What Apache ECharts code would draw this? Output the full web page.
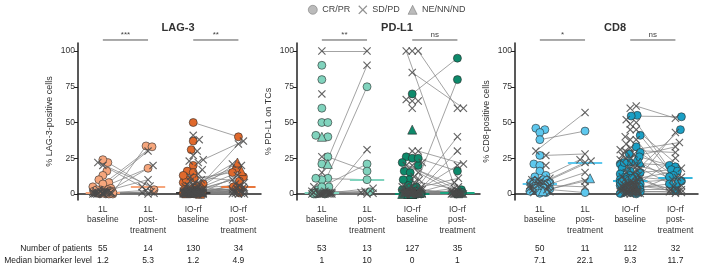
<!DOCTYPE html>
<html>
<head>
<meta charset="utf-8">
<script src="https://cdn.jsdelivr.net/npm/echarts@6/dist/echarts.min.js"></script>
<style>
html, body { margin: 0; padding: 0; background: #fff; }
#chart { width: 701px; height: 265px; }
</style>
</head>
<body>
<div id="chart"></div>
<script>
// labels and table
var columns = ['1L\nbaseline', '1L\npost-\ntreatment', 'IO-rf\nbaseline', 'IO-rf\npost-\ntreatment'];
var panelNames = ['LAG-3', 'PD-L1', 'CD8'];
var yNames = ['% LAG-3-positive cells', '% PD-L1 on TCs', '% CD8-positive cells'];
var yTicks = [0, 25, 50, 75, 100];
var patientCounts = [[55, 14, 130, 34], [53, 13, 127, 35], [50, 11, 112, 32]];
var medianLevels = [[1.2, 5.3, 1.2, 4.9], [1, 10, 0, 1], [7.1, 22.1, 9.3, 11.7]];
var sigLabels = [['***', '**'], ['**', 'ns'], ['*', 'ns']];
var legendNames = ['CR/PR', 'SD/PD', 'NE/NN/ND'];

// response codes: c = CR/PR, x = SD/PD, t = NE/NN/ND
// "Only" = baseline only, "Pairs" = [baseline, post-treatment]

// LAG-3, 1L
var lag1Only = [22, 16, 13, 10, 8, 7, 5, 4, 3, 3, 2.8, 2.5, 2.2, 2, 2, 1.8, 1.6, 1.5, 1.5, 1.4, 1.3,
  1.2, 1.1, 1, 1, 0.9, 0.8, 0.7, 0.6, 0.5, 0.5, 0.4, 0.3, 0.2, 0.2, 0.1, 0.1, 0, 0, 0, 0];
var lag1OnlyResp = 'cccccccccxcxccxccxccx' + 'cxccxccxcxcxcxccxcxc';
var lag1Pairs = [[1, 33.6], [2, 33], [0.5, 30], [1.5, 20], [3, 18], [0.8, 10], [22, 5.6], [20, 5],
  [24, 3], [0.4, 2.5], [0.2, 1.5], [1.2, 1], [0.6, 0.5], [0, 0]];
var lag1PairResp = 'ccxxcxxxcxxxxx';

// LAG-3, IO-rf
var lagIoOnly = [41, 38, 37, 31, 30, 27, 23, 22, 20, 17, 16, 15, 14, 12, 11, 10, 9, 8, 7, 7, 6, 5.5, 5, 4.5,
  4, 4, 3.8, 3.5, 3.2, 3, 3, 2.8, 2.6, 2.5, 2.4, 2.2, 2, 2, 1.9, 1.8, 1.7, 1.6, 1.5, 1.5, 1.4, 1.4, 1.3, 1.3, 1.3,
  1.2, 1.1, 1.1, 1, 1, 1, 0.9, 0.9, 0.9, 0.8, 0.8, 0.8, 0.8, 0.7, 0.7, 0.7, 0.6, 0.6, 0.6, 0.5, 0.5, 0.5, 0.5,
  0.4, 0.4, 0.4, 0.3, 0.3, 0.3, 0.2, 0.2, 0.2, 0.2, 0.1, 0.1, 0.1, 0.1, 0, 0, 0, 0, 0, 0, 0, 0, 0, 0];
var lagIoOnlyResp = 'xxccxxxxcx' + 'ccxxcxxcxc' + 'xcxxctxxcx' + 'xxcxxxxxcx' + 'xxcxxxcxt' + 'c' +
  'xcxxcxxcxx' + 'xtxxcxxxcx' + 'xcxxxcxxxx' + 'cxxxtxxcxx' + 'xxxcxx';
var lagIoPairs = [[50, 40], [24, 37], [2, 35], [5, 22], [1, 21], [8, 20], [3, 18], [0.5, 16], [10, 15],
  [0.8, 13], [2, 12], [1.2, 10], [13, 9], [0.3, 8], [0.5, 7], [4, 6], [1, 5], [0, 4.8], [0.2, 4], [3.5, 3.5],
  [0.6, 3], [1.5, 3], [0, 2.5], [2.2, 2], [0.4, 2], [0.1, 1.5], [0.7, 1], [6, 1], [0.9, 0.8], [0, 0.5],
  [1.4, 0.5], [0.2, 0.2], [0, 0], [0.3, 0]];
var lagIoPairResp = 'cxxtxxctcx' + 'cxcxxxcxxc' + 'xxcxxxxxcx' + 'xxxx';

// PD-L1, 1L
var pd1Only = [90, 80, 70, 60, 50, 50, 41, 40, 40, 26, 21, 21, 15, 11, 10, 5, 5, 3, 2, 2,
  1, 1, 1, 1, 1, 1, 0.5, 0.5, 0.5, 0.5, 0, 0, 0, 0, 0, 0, 0, 0, 0, 0];
var pd1OnlyResp = 'ccxcccctcx' + 'ctxcccxcxc' + 'cxcxcxxcxcxxcxxcxxcx';
var pd1Pairs = [[100, 100], [1, 90], [2, 75], [0.5, 31], [5, 21], [26, 16], [11, 10], [1, 4], [0, 2],
  [0.5, 1.5], [2, 1], [0, 0.5], [0, 0]];
var pd1PairResp = 'xxcxcccxxcxxx';

// PD-L1, IO-rf
var pdIoOnly = [100, 66, 65, 65, 60, 45, 30, 26, 25, 22, 20, 20, 16, 15, 12, 10, 10, 8, 6, 5, 5, 5, 4, 3, 3, 3,
  2, 2, 2, 2, 1, 1, 1, 1, 1, 1, 0.5, 0.5, 0.5, 0.5, 0.5, 0.5,
  0, 0, 0, 0, 0, 0, 0, 0, 0, 0, 0, 0, 0, 0, 0, 0, 0, 0, 0, 0, 0, 0, 0, 0, 0,
  0, 0, 0, 0, 0, 0, 0, 0, 0, 0, 0, 0, 0, 0, 0, 0, 0, 0, 0, 0, 0, 0, 0, 0, 0];
var pdIoOnlyResp = 'xxxxxtxccx' + 'xcccxcxxcc' + 'xxxxcxxcxx' + 'xxcxxt' + 'xxcxxc' +
  'xcxxtxcxxc' + 'xcxxtxcxxc' + 'xcxxtxcxxc' + 'xcxxtxcxxc' + 'xcxxtxcxxc';
var pdIoPairs = [[100, 60], [85, 60], [100, 0], [70, 95], [0, 80], [0, 40], [2, 30], [30, 21], [0, 20],
  [25, 16], [5, 11], [0, 8], [20, 5], [0, 4], [10, 3], [0, 2], [1, 2], [0, 1.5], [15, 1], [0, 1], [22, 1],
  [0, 0.5], [3, 0.5], [0, 0.5], [0, 0], [1, 0], [0, 0], [5, 0], [0, 0], [0, 0], [2, 0], [0, 0], [0, 0],
  [0, 0], [0, 0]];
var pdIoPairResp = 'xxxccxxxxc' + 'xxxxcxxxxx' + 'cxxtxxxxxc' + 'xxxxx';

// CD8, 1L
var cd1Only = [46, 45, 43, 27, 21, 20, 20, 16, 13, 12, 11, 10, 10, 9.5, 9, 8.5, 8, 8, 7.5, 7.2, 7,
  6.8, 6.5, 6, 6, 5.5, 5, 5, 4.5, 4, 4, 3.5, 3, 3, 2.5, 2, 1.5, 1, 0.5];
var cd1OnlyResp = 'ccccccxccc' + 'xcxccxccc' + 'cc' + 'cxcxccxccx' + 'ccxccxcc';
var cd1Pairs = [[38, 44], [30, 57], [27, 28], [10, 24], [8, 23], [5, 22.1], [3, 15], [2, 11], [1, 9],
  [6, 5], [4, 1]];
var cd1PairResp = 'cxxxxxxtxxc';

// CD8, IO-rf
var cdIoOnly = [60, 55, 52, 49, 45, 40, 38, 33, 32, 29, 28, 27, 26, 25, 24, 23, 22, 21, 20, 19, 18, 17, 16,
  15, 14, 13, 13, 12, 12, 11, 11, 10.5, 10, 10, 9.8, 9.4, 9.2,
  9, 8.8, 8.5, 8, 8, 7.5, 7, 7, 6.5, 6, 6, 5.5, 5, 5, 5, 4.5, 4, 4, 4, 3.5, 3, 3, 3, 2.5, 2.5, 2, 2, 2,
  1.8, 1.5, 1.5, 1.2, 1, 1, 1, 0.8, 0.6, 0.5, 0.4, 0.3, 0.2, 0.1, 0];
var cdIoOnlyResp = 'xcxxxxxcxc' + 'xxcxxtccxx' + 'cxcxcxcxcx' + 'cxcxc' + 'xc' +
  'cxcxcxxcxx' + 'cxxcxcxxcx' + 'cxxcxxcxxc' + 'xxcxxcxxcx' + 'xcx';
var cdIoPairs = [[61.5, 53], [54.5, 54], [10, 45], [5, 43], [30, 36], [25, 33], [31, 29], [3, 25], [22, 20],
  [28, 19], [45, 18], [15, 17], [9, 16], [41, 13], [2, 12], [20, 11.8], [35, 11.6], [8, 10], [12, 9],
  [22, 8], [4, 7], [50, 6], [38, 5], [6, 4], [18, 3], [3, 3], [11, 2.5], [7, 2], [1, 2], [14, 1.5],
  [2, 1], [0.5, 0.5]];
var cdIoPairResp = 'xccxxxxxcc' + 'xccccxxxct' + 'cxxxxxcxxx' + 'xx';

var panelData = [
  [[lag1Only, lag1OnlyResp, lag1Pairs, lag1PairResp], [lagIoOnly, lagIoOnlyResp, lagIoPairs, lagIoPairResp]],
  [[pd1Only, pd1OnlyResp, pd1Pairs, pd1PairResp], [pdIoOnly, pdIoOnlyResp, pdIoPairs, pdIoPairResp]],
  [[cd1Only, cd1OnlyResp, cd1Pairs, cd1PairResp], [cdIoOnly, cdIoOnlyResp, cdIoPairs, cdIoPairResp]]
];

var cohortColors = [['#f6a67c', '#e0692c'], ['#80d3bd', '#0d8a6b'], ['#5ec8ee', '#1a9fc5']];
var medianColors = [['#f6a67c', '#f6a67c', '#3a3a3a', '#e8773c'],
                    ['#80d3bd', '#80d3bd', '#0d8a6b', '#1aa580'],
                    ['#5ec8ee', '#5ec8ee', '#36b6dc', '#36b6dc']];

var FONT = 'Liberation Sans';
var CROSS = 'path://M1,0 L5,4 L9,0 L10,1 L6,5 L10,9 L9,10 L5,6 L1,10 L0,9 L4,5 L0,1 Z';
var gridLefts = [78, 297, 515];
var GRID_TOP = 43, GRID_H = 157, GRID_W = 183;
var X_MIN = 0.45, X_MAX = 4.5, Y_MIN = -4.2, Y_MAX = 105.6;
var PX_X = GRID_W / (X_MAX - X_MIN), PX_Y = GRID_H / (Y_MAX - Y_MIN);

// simple beeswarm: spread points sideways so they overlap less
function swarm(vals, maxOff) {
    var order = vals.map(function (v, i) { return i; })
        .sort(function (a, b) { return vals[a] - vals[b]; });
    var placed = [], offs = [];
    order.forEach(function (i) {
        var py = vals[i] * PX_Y, best = 0, bestD = -1;
        for (var s = 0; s <= 2 * maxOff; s++) {
            var ox = (s % 2 ? 1 : -1) * Math.ceil(s / 2);
            var md = Infinity;
            placed.forEach(function (q) {
                var d = Math.sqrt((q[0] - ox) * (q[0] - ox) + (q[1] - py) * (q[1] - py));
                if (d < md) md = d;
            });
            if (md >= 5.5) { best = ox; break; }
            if (md > bestD) { bestD = md; best = ox; }
        }
        placed.push([best, py]);
        offs[i] = best / PX_X;
    });
    return offs;
}

var grids = [], xAxes = [], yAxes = [], titles = [], series = [];

legendNames.forEach(function (n) {
    series.push({ name: n, type: 'scatter', data: [] });
});

panelData.forEach(function (cohorts, p) {
    grids.push({ left: gridLefts[p], top: GRID_TOP, width: GRID_W, height: GRID_H });
    xAxes.push({
        type: 'value', gridIndex: p, min: X_MIN, max: X_MAX,
        axisLine: { lineStyle: { color: '#222', width: 1.5 } },
        axisTick: { show: false },
        splitLine: { show: false },
        axisLabel: {
            customValues: [1, 2, 3, 4], margin: 4, fontSize: 8.5, lineHeight: 10.5,
            color: '#333', fontFamily: FONT,
            formatter: function (v) { return columns[Math.round(v) - 1] || ''; }
        }
    });
    yAxes.push({
        type: 'value', gridIndex: p, min: Y_MIN, max: Y_MAX,
        name: yNames[p], nameLocation: 'middle', nameGap: 24, nameRotate: 90,
        nameTextStyle: { fontSize: 9, color: '#333', fontFamily: FONT },
        axisLine: { show: true, lineStyle: { color: '#222', width: 1.5 } },
        axisTick: { show: true, customValues: yTicks, length: 4, lineStyle: { color: '#222' } },
        splitLine: { show: false },
        axisLabel: { customValues: yTicks, margin: 3, fontSize: 8.5, color: '#333', fontFamily: FONT }
    });
    titles.push({
        text: panelNames[p], left: gridLefts[p] + 95, top: 17, textAlign: 'center',
        textStyle: { fontSize: 11, fontWeight: 'bold', color: '#333', fontFamily: FONT }
    });

    var lineData = [], medData = [];

    cohorts.forEach(function (co, k) {
        var only = co[0], onlyResp = co[1], pairs = co[2], pairResp = co[3];
        var baseCol = 1 + 2 * k, postCol = 2 + 2 * k;
        var baseVals = only.concat(pairs.map(function (d) { return d[0]; }));
        var baseResp = onlyResp + pairResp;
        var postVals = pairs.map(function (d) { return d[1]; });
        var bOff = swarm(baseVals, 10), pOff = swarm(postVals, 6);
        var color = cohortColors[p][k];
        var ptsK = { c: [], x: [], t: [] };

        baseVals.forEach(function (v, i) {
            var r = baseResp.charAt(i) || 'x';
            ptsK[r].push([baseCol + bOff[i], v]);
        });
        postVals.forEach(function (v, j) {
            var r = pairResp.charAt(j) || 'x';
            ptsK[r].push([postCol + pOff[j], v]);
            var bi = only.length + j;
            lineData.push({ coords: [[baseCol + bOff[bi], baseVals[bi]], [postCol + pOff[j], v]] });
        });

        [baseCol, postCol].forEach(function (c) {
            var m = medianLevels[p][c - 1];
            medData.push({
                coords: [[c - 0.38, m], [c + 0.38, m]],
                lineStyle: { color: medianColors[p][c - 1] }
            });
        });

        series.push({
            type: 'scatter', xAxisIndex: p, yAxisIndex: p, z: 4,
            symbol: 'circle', symbolSize: 8, data: ptsK.c,
            itemStyle: { color: color, borderColor: '#2a2a2a', borderWidth: 0.6, opacity: 1 }
        });
        series.push({
            type: 'scatter', xAxisIndex: p, yAxisIndex: p, z: 4,
            symbol: 'triangle', symbolSize: 9, data: ptsK.t,
            itemStyle: { color: color, borderColor: '#2a2a2a', borderWidth: 0.6, opacity: 1 }
        });
        series.push({
            type: 'scatter', xAxisIndex: p, yAxisIndex: p, z: 5,
            symbol: CROSS, symbolSize: 8, data: ptsK.x,
            itemStyle: { color: '#4a4a4a', opacity: 0.85 }
        });
    });

    series.push({
        type: 'lines', coordinateSystem: 'cartesian2d', xAxisIndex: p, yAxisIndex: p, z: 2,
        data: lineData, lineStyle: { color: '#7f7f7f', width: 0.8, opacity: 0.9 }, silent: true
    });
    series.push({
        type: 'lines', coordinateSystem: 'cartesian2d', xAxisIndex: p, yAxisIndex: p, z: 3,
        data: medData, lineStyle: { width: 2, opacity: 1 }, silent: true
    });
});

var chart = echarts.init(document.getElementById('chart'));
chart.setOption({
    animation: false,
    textStyle: { fontFamily: FONT },
    title: titles,
    legend: {
        top: 0, left: 303, itemWidth: 9, itemHeight: 9, itemGap: 8, selectedMode: false,
        textStyle: { fontSize: 9, color: '#444', fontFamily: FONT },
        data: [
            { name: 'CR/PR', icon: 'circle', itemStyle: { color: '#aaaaaa', borderColor: '#666', borderWidth: 0.6 } },
            { name: 'SD/PD', icon: CROSS, itemStyle: { color: '#777777', borderWidth: 0 } },
            { name: 'NE/NN/ND', icon: 'triangle', itemStyle: { color: '#aaaaaa', borderColor: '#666', borderWidth: 0.6 } }
        ]
    },
    grid: grids,
    xAxis: xAxes,
    yAxis: yAxes,
    series: series
});

// significance brackets and the table under the chart
var graphics = [];
var SIG_Y = 107.7;
panelData.forEach(function (cohorts, p) {
    sigLabels[p].forEach(function (s, k) {
        var a = chart.convertToPixel({ gridIndex: p }, [1 + 2 * k, SIG_Y]);
        var b = chart.convertToPixel({ gridIndex: p }, [2 + 2 * k, SIG_Y]);
        graphics.push({ type: 'line', shape: { x1: a[0], y1: a[1], x2: b[0], y2: b[1] },
            style: { stroke: '#555', lineWidth: 1 } });
        graphics.push({ type: 'text', x: (a[0] + b[0]) / 2, y: a[1] - 1.5,
            style: { text: s, align: 'center', verticalAlign: 'bottom', fontSize: 8,
                fontFamily: FONT, fill: '#444' } });
    });
    columns.forEach(function (c, k) {
        var x = chart.convertToPixel({ gridIndex: p }, [k + 1, 0])[0];
        graphics.push({ type: 'text', x: x, y: 249,
            style: { text: String(patientCounts[p][k]), align: 'center', verticalAlign: 'middle',
                fontSize: 8.5, fontFamily: FONT, fill: '#222' } });
        graphics.push({ type: 'text', x: x, y: 261,
            style: { text: String(medianLevels[p][k]), align: 'center', verticalAlign: 'middle',
                fontSize: 8.5, fontFamily: FONT, fill: '#222' } });
    });
});
graphics.push({ type: 'text', x: 92, y: 249,
    style: { text: 'Number of patients', align: 'right', verticalAlign: 'middle',
        fontSize: 8.5, fontFamily: FONT, fill: '#222' } });
graphics.push({ type: 'text', x: 92, y: 261,
    style: { text: 'Median biomarker level', align: 'right', verticalAlign: 'middle',
        fontSize: 8.5, fontFamily: FONT, fill: '#222' } });
chart.setOption({ graphic: graphics });
</script>
</body>
</html>
